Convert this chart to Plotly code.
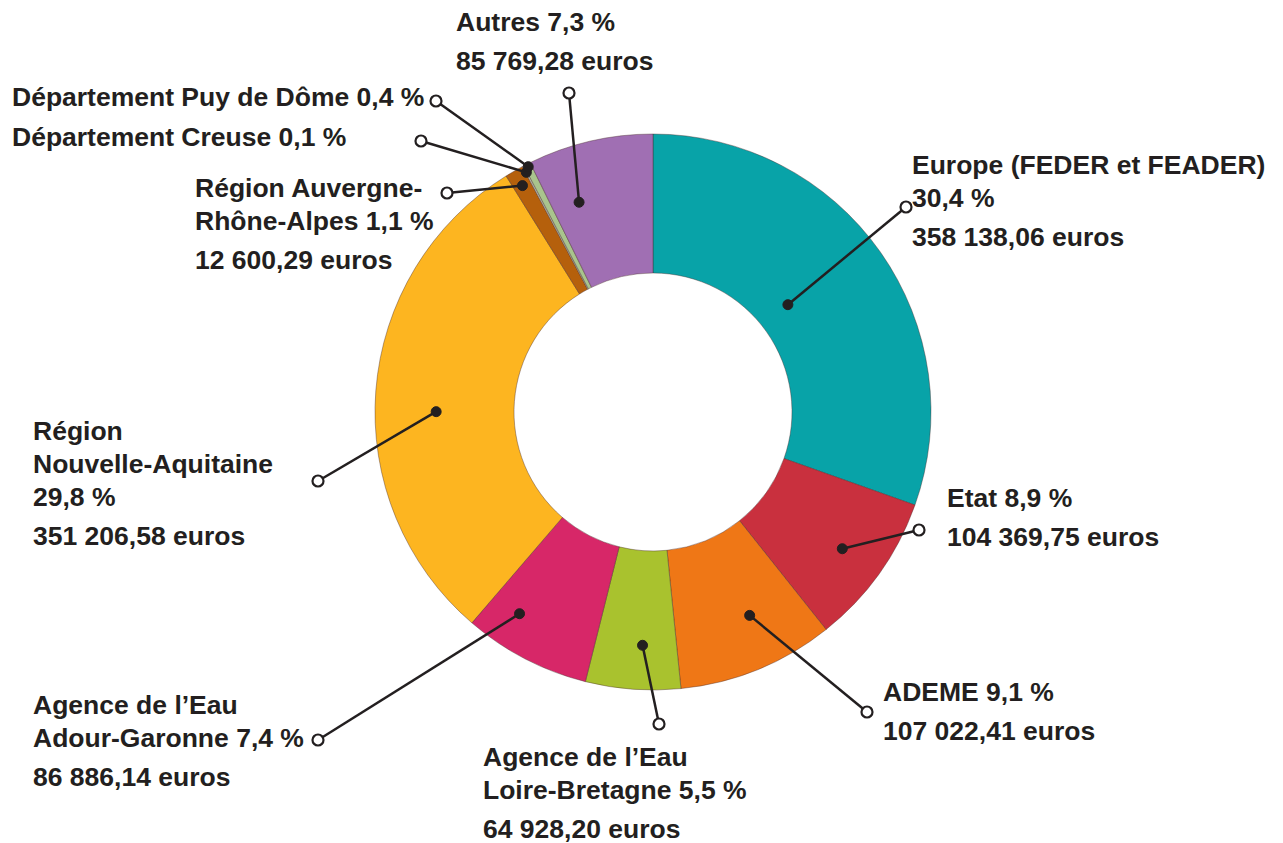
import math
import plotly.graph_objects as go

# ---------------- data ----------------
categories = [
    "Europe (FEDER et FEADER)",
    "Etat",
    "ADEME",
    "Agence de l’Eau Loire-Bretagne",
    "Agence de l’Eau Adour-Garonne",
    "Région Nouvelle-Aquitaine",
    "Région Auvergne-Rhône-Alpes",
    "Département Creuse",
    "Département Puy de Dôme",
    "Autres",
]
amounts_eur = [358138.06, 104369.75, 107022.41, 64928.20, 86886.14,
               351206.58, 12600.29, 1180.00, 4710.00, 85769.28]
show_amount = [True, True, True, True, True, True, True, False, False, True]

# ---------------- style / layout ----------------
colors = ["#08a3a8", "#c9303e", "#ef7716", "#a9c22e", "#d72768",
          "#fdb520", "#b5600c", "#b9b9aa", "#a9c48d", "#a06fb3"]

W, H = 1283, 843
CX, CY, R = 653, 412, 278          # donut centre / outer radius (px)
HOLE = 0.50
TXT = "#231f20"
FONT = "Liberation Sans, Arial, sans-serif"
FS = 26.5
STEP, GAP = 33, 39

# label text lines (name part), "{p}" = percent
label_lines = [
    ["Europe (FEDER et FEADER)", "{p}"],
    ["Etat {p}"],
    ["ADEME {p}"],
    ["Agence de l’Eau", "Loire-Bretagne {p}"],
    ["Agence de l’Eau", "Adour-Garonne {p}"],
    ["Région", "Nouvelle-Aquitaine", "{p}"],
    ["Région Auvergne-", "Rhône-Alpes {p}"],
    ["Département Creuse {p}"],
    ["Département Puy de Dôme {p}"],
    ["Autres {p}"],
]
# text block (left x, first line centre y)
label_pos = [(912, 165), (947, 498), (883, 692), (483, 757), (33, 705),
             (33, 431), (195, 188), (12, 137), (12, 97), (456, 22)]
# open circle end of leader line
circle_pos = [(906, 207), (919, 530), (867, 712), (659, 724), (318, 740),
              (318, 481), (447, 193), (421, 141), (436, 101), (569, 93)]
# inner dot: radius fraction and position inside slice (0..1)
dot_rfrac = [0.62, 0.84, 0.81, 0.84, 0.87, 0.78, 0.94, 0.975, 0.99, 0.80]
dot_apos = [0.47, 0.51, 0.40, 0.42, 0.73, 0.46, 0.5, 0.5, 0.5, 0.26]


def fr_num(v):
    return f"{v:,.2f}".replace(",", " ").replace(".", ",")


def fr_pct(v):
    return f"{v:.1f}".replace(".", ",") + " %"


def px_x(x):
    return x / W


def px_y(y):
    return 1 - y / H


total = sum(amounts_eur)

fig = go.Figure()
fig.add_trace(go.Pie(
    labels=categories,
    values=amounts_eur,
    sort=False,
    direction="clockwise",
    rotation=0,
    hole=HOLE,
    marker=dict(colors=colors, line=dict(color="rgba(70,40,40,0.4)", width=1)),
    textinfo="none",
    hoverinfo="label+percent",
    showlegend=False,
    domain=dict(x=[px_x(CX - R), px_x(CX + R)], y=[px_y(CY + R), px_y(CY - R)]),
))

shapes = []
annotations = []
cum = 0.0
for i, cat in enumerate(categories):
    frac = amounts_eur[i] / total
    a0 = cum * 360
    a1 = (cum + frac) * 360
    cum += frac
    theta = math.radians(a0 + (a1 - a0) * dot_apos[i])
    r = R * dot_rfrac[i]
    dx = CX + r * math.sin(theta)
    dy = CY - r * math.cos(theta)
    ox, oy = circle_pos[i]

    # leader line
    shapes.append(dict(type="line", xref="paper", yref="paper",
                       x0=px_x(dx), y0=px_y(dy), x1=px_x(ox), y1=px_y(oy),
                       line=dict(color=TXT, width=2.5), layer="above"))
    # inner filled dot
    shapes.append(dict(type="circle", xref="paper", yref="paper",
                       xsizemode="pixel", ysizemode="pixel",
                       xanchor=px_x(dx), yanchor=px_y(dy),
                       x0=-5, x1=5, y0=-5, y1=5,
                       fillcolor=TXT, line=dict(color=TXT, width=1), layer="above"))
    # outer open circle
    shapes.append(dict(type="circle", xref="paper", yref="paper",
                       xsizemode="pixel", ysizemode="pixel",
                       xanchor=px_x(ox), yanchor=px_y(oy),
                       x0=-5.5, x1=5.5, y0=-5.5, y1=5.5,
                       fillcolor="white", line=dict(color=TXT, width=2.2), layer="above"))

    # text
    pct = fr_pct(frac * 100)
    lx, ly = label_pos[i]
    lx -= 2
    lines = [s.replace("{p}", pct) for s in label_lines[i]]
    y = ly
    for k, line in enumerate(lines):
        annotations.append(dict(x=px_x(lx), y=px_y(y), xref="paper", yref="paper",
                                text=f"<b>{line}</b>", showarrow=False,
                                xanchor="left", yanchor="middle",
                                font=dict(family=FONT, size=FS, color=TXT)))
        y += STEP
    if show_amount[i]:
        y = y - STEP + GAP
        annotations.append(dict(x=px_x(lx), y=px_y(y), xref="paper", yref="paper",
                                text=f"<b>{fr_num(amounts_eur[i])} euros</b>", showarrow=False,
                                xanchor="left", yanchor="middle",
                                font=dict(family=FONT, size=FS, color=TXT)))

fig.update_layout(
    width=W, height=H,
    margin=dict(l=0, r=0, t=0, b=0),
    paper_bgcolor="white", plot_bgcolor="white",
    shapes=shapes, annotations=annotations,
    font=dict(family=FONT, color=TXT),
)

fig.write_html("out.html",
               config={"displayModeBar": False},
               post_script="document.body.style.margin='0px';document.body.style.overflow='hidden';")
